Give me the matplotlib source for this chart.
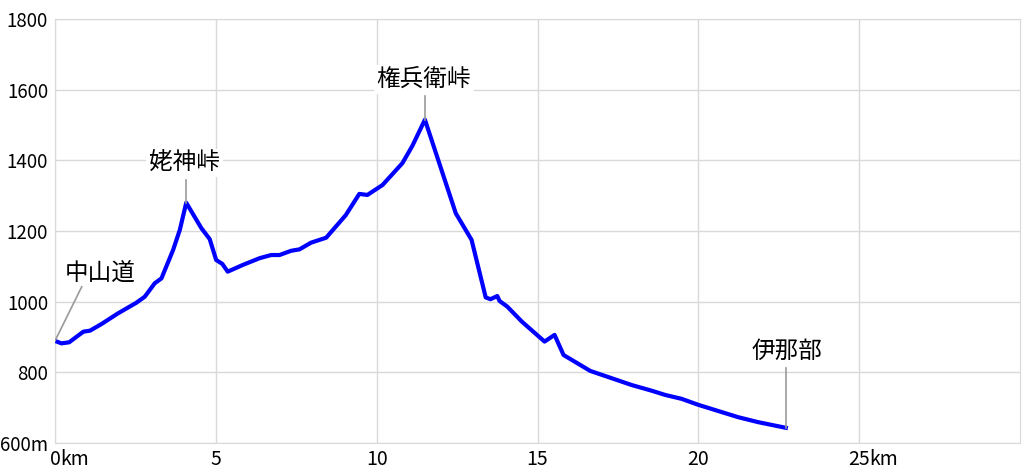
import matplotlib
matplotlib.use('Agg')
import matplotlib.pyplot as plt

plt.rcParams['font.family'] = ['Noto Sans CJK JP', 'DejaVu Sans']

# Streckenprofil: Entfernung [km] und Höhe [m]
dist = [0.0, 0.2, 0.44, 0.88, 1.09, 1.45, 1.96, 2.53, 2.79, 3.1, 3.31, 3.67,
        3.88, 4.08, 4.55, 4.81, 5.01, 5.2, 5.37, 5.84, 6.36, 6.72, 6.98,
        7.34, 7.60, 7.96, 8.43, 9.04, 9.46, 9.71, 10.18, 10.80, 11.11, 11.50,
        12.46, 12.95, 13.39, 13.54, 13.75, 13.82, 14.06, 14.52, 15.22, 15.53,
        15.81, 16.64, 17.93, 18.55, 18.97, 19.48, 20.0, 21.24, 21.86, 22.72]
elev = [889, 882, 885, 915, 918, 937, 967, 997, 1014, 1052, 1066, 1146,
        1203, 1280, 1208, 1177, 1118, 1107, 1085, 1104, 1123, 1132, 1132,
        1144, 1148, 1167, 1181, 1245, 1305, 1302, 1330, 1392, 1441, 1515,
        1250, 1175, 1012, 1007, 1016, 1002, 986, 943, 887, 906,
        849, 804, 764, 748, 736, 725, 708, 673, 659, 643]

# Beschriftungen (Name, Punkt-Index, Textposition)
names = ['中山道', '姥神峠', '権兵衛峠', '伊那部']
name_idx = [0, 13, 33, len(dist) - 1]
name_x = [1.40, 4.03, 11.47, 22.76]
name_y = [1081, 1392, 1629, 860]
name_rel = [(0.25, 0.0), (0.5, 0.0), (0.5, 0.0), (0.5, 0.0)]

xticks = [0, 5, 10, 15, 20, 25]
yticks = [600, 800, 1000, 1200, 1400, 1600, 1800]
ylabels = ['600m', '800', '1000', '1200', '1400', '1600', '1800']

fig = plt.figure(figsize=(10.24, 4.76), dpi=100)
ax = fig.add_axes([55/1024, 33/476, 965/1024, 424/476])

ax.plot(dist, elev, color='#0000ff', lw=3.0, solid_joinstyle='round', zorder=3)

for name, i, tx, ty, rel in zip(names, name_idx, name_x, name_y, name_rel):
    t = ax.annotate(name, xy=(dist[i], elev[i]), xytext=(tx, ty),
                    ha='center', va='center', fontsize=17,
                    bbox=dict(boxstyle='square,pad=0.12', fc='white', ec='none'),
                    zorder=4)
    # Führungslinie: senkrecht bei den Pässen, schräg beim Startpunkt
    if i == 0:
        ax.plot([dist[i], 0.83], [elev[i], 1042], color='#999999', lw=1.2, zorder=4)
    else:
        ax.plot([dist[i], dist[i]], [elev[i], ty - 48], color='#999999', lw=1.2, zorder=4)

ax.set_xlim(0, 30)
ax.set_ylim(600, 1800)
ax.set_xticks(xticks)
ax.set_xticklabels([str(t) for t in xticks])
ax.set_yticks(yticks)
ax.set_yticklabels(ylabels)
ax.tick_params(axis='x', length=0, labelsize=14, pad=4)
ax.tick_params(axis='y', length=0, labelsize=13.5, pad=5)
ax.grid(True, color='#d9d9d9', lw=1)
ax.set_axisbelow(True)
for s in ax.spines.values():
    s.set_color('#d9d9d9')

# km-Einheit hinter 0 und 25
fs = 14
for t in (0, 25):
    ax.annotate('km', xy=(t, 600), xytext=(len(str(t)) * 0.5 * 0.55 * fs - 0.3, -4),
                textcoords='offset points', ha='left', va='top', fontsize=fs)

fig.savefig('out.png', dpi=100)
